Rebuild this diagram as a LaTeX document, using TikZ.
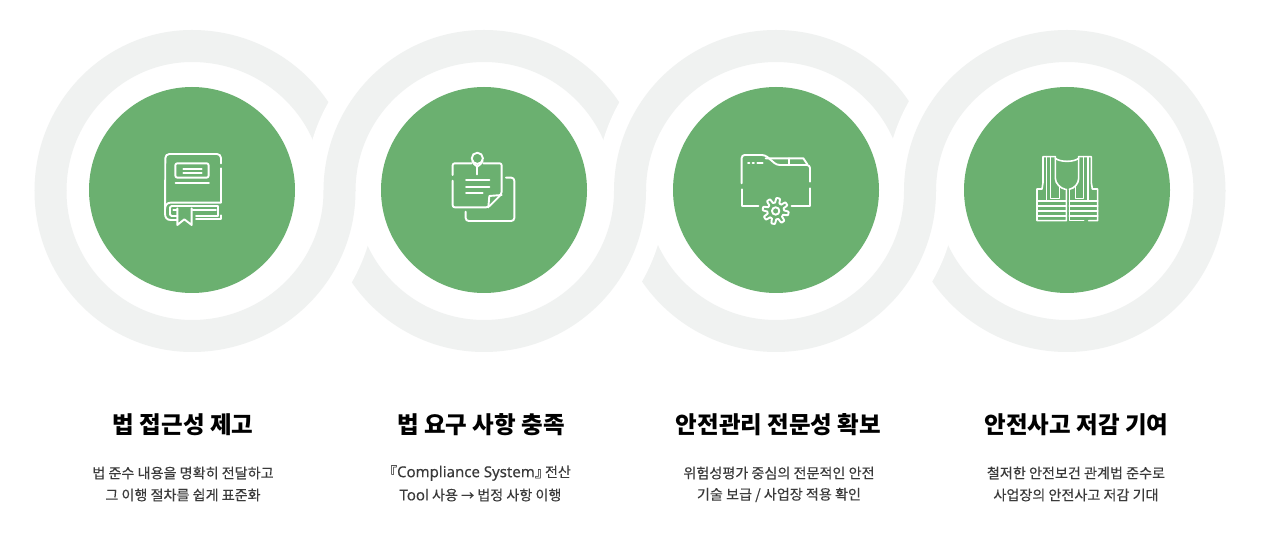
\documentclass[tikz,border=0pt]{standalone}
\usepackage{fontspec}
\setmainfont{Noto Sans CJK KR}
\newfontfamily\medfont{Noto Sans CJK KR}[FakeBold=0.25]
\newfontfamily\latinfont{Noto Sans}[FakeBold=0.25]
\definecolor{ringc}{HTML}{F0F2F1}
\definecolor{greenc}{HTML}{6BB070}
\definecolor{bodyc}{HTML}{3A3A3A}
\tikzset{
  ringarc/.style={draw=ringc,line width=32pt},
  gap/.style={fill=white,draw=none},
  disc/.style={circle,fill=greenc,draw=none,minimum size=206pt,inner sep=0pt},
  icon/.style={draw=white,line width=1.9pt,line cap=round,line join=round,fill=none},
  thinicon/.style={icon,line width=1.6pt},
  titletext/.style={font=\fontsize{23.5}{28}\selectfont\bfseries,text=black,anchor=center,inner sep=0pt},
  bodytext/.style={font=\fontsize{14.1}{22}\selectfont\medfont,text=bodyc,anchor=center,inner sep=0pt}
}
\newcommand{\upperring}[3]{\draw[ringarc] ({#1-#2},342) arc[start angle=180,end angle=90,x radius=#2pt,y radius=145pt] arc[start angle=90,end angle=0,x radius=#3pt,y radius=145pt];}
\newcommand{\lowerring}[3]{\draw[ringarc] ({#1-#2},342.6) -- ({#1-#2},342) arc[start angle=180,end angle=270,x radius=#2pt,y radius=145pt] arc[start angle=270,end angle=360,x radius=#3pt,y radius=145pt] -- ({#1+#3},342.6);}
\newcommand{\gapupper}[2]{\fill[gap] ({#1-#2},342) arc[start angle=180,end angle=0,radius=#2pt] -- cycle;}
\newcommand{\gaplower}[2]{\fill[gap] ({#1-#2},342) arc[start angle=180,end angle=360,radius=#2pt] -- cycle;}
\newcommand{\lat}[1]{{\latinfont\fontsize{15}{22}\selectfont #1}}
\begin{document}
\begin{tikzpicture}[x=1pt,y=1pt]
\useasboundingbox (0,0) rectangle (1280,533);
\fill[white] (0,0) rectangle (1280,533);
% upper halves, left to right
\upperring{192}{141.5}{147.5}
\gapupper{484}{179}
\upperring{484}{144.5}{146}
\gapupper{776}{180}
\upperring{776}{146}{144}
\gapupper{1067}{181.7}
\upperring{1067}{147}{142.5}
% lower halves, right to left
\lowerring{1067}{147}{142.5}
\gaplower{776}{180.5}
\lowerring{776}{146}{144}
\gaplower{484}{182}
\lowerring{484}{144.5}{146}
\gaplower{192}{184}
\lowerring{192}{141.5}{147.5}
% green discs
\node[disc] (d1) at (192,343) {};
\node[disc] (d2) at (484,343) {};
\node[disc] (d3) at (776,343) {};
\node[disc] (d4) at (1067,343) {};
% book icon
\begin{scope}[shift={(140,403)},x=0.3333pt,y=-0.3333pt]
\draw[icon] (243,100) -- (243,84) arc[start angle=0,end angle=90,radius=4pt] -- (88,72) arc[start angle=90,end angle=180,radius=4pt] -- (75,250) .. controls (75,262) and (80,270) .. (92,270) -- (112,270);
\draw[icon] (243,115) -- (243,218) -- (92,218) .. controls (82,218) and (75,225) .. (75,238);
\draw[icon] (95,228) -- (235,228) -- (235,258) -- (168,258);
\draw[icon] (95,228) -- (90,232) -- (90,254) -- (95,258) -- (112,258);
\draw[icon] (100,241) -- (112,241) (158,241) -- (228,241);
\draw[icon] (168,268) -- (243,268) -- (243,256);
\draw[icon] (112,235) -- (112,285) -- (133,268) -- (155,285) -- (155,235);
\draw[icon,rounded corners=2pt] (106,100) rectangle (206,143);
\draw[icon] (130,116) -- (185,116) (130,130) -- (185,130) (107,158) -- (207,158);
\end{scope}
% note icon
\begin{scope}[shift={(430,403)},x=0.3333pt,y=-0.3333pt]
\draw[icon,rounded corners=2pt] (125,100) -- (68,100) -- (68,135);
\draw[icon,rounded corners=2pt] (160,100) -- (215,100) -- (215,192) -- (175,232) -- (68,232) -- (68,152);
\draw[icon] (215,195) -- (178,198) -- (175,232);
\draw[icon] (108,150) -- (178,150) (108,170) -- (178,170) (108,190) -- (158,190);
\draw[icon] (142,85) circle[radius=5.6pt];
\draw[icon] (127,92) .. controls (128,100) and (135,105) .. (142,110) .. controls (149,105) and (156,100) .. (158,92);
\draw[icon] (142,110) -- (142,133);
\draw[icon,rounded corners=3pt] (228,143) -- (253,143) -- (253,273) -- (107,273) -- (107,245);
\end{scope}
% folder icon
\begin{scope}[shift={(720,403)},x=0.3333pt,y=-0.3333pt]
\draw[icon,rounded corners=3pt] (65,160) -- (65,75) -- (135,75) -- (170,105) -- (270,105) -- (270,155);
\draw[icon] (137,85) -- (250,85) -- (262,103);
\draw[icon] (207,85) -- (207,105);
\draw[icon] (84,98) -- (88,98) (98,98) -- (102,98) (112,98) -- (128,98);
\draw[icon] (65,178) -- (65,228) -- (115,228);
\draw[icon] (270,175) -- (270,228) -- (215,228);
\draw[icon] plot[domain=0:360,samples=145] ({167+(32+7*min(1,max(-1,2.2*sin(8*\x))))*cos(\x)},{243+(32+7*min(1,max(-1,2.2*sin(8*\x))))*sin(\x)}) -- cycle;
\draw[icon] (167,243) circle[radius=3.7pt];
\end{scope}
% vest icon
\begin{scope}[shift={(1012,403)},x=0.3333pt,y=-0.3333pt]
\draw[thinicon] (130,80) -- (93,80) -- (93,158) -- (90,177) -- (75,177) -- (75,272) -- (163,272) -- (163,178);
\draw[thinicon] (200,80) -- (238,80) -- (238,158) -- (241,177) -- (257,177) -- (257,272) -- (230,272);
\draw[thinicon] (172,178) -- (172,272) -- (215,272);
\draw[thinicon] (130,85) .. controls (145,97) and (185,97) .. (200,85);
\draw[thinicon] (130,80) -- (130,145) .. controls (130,160) and (145,175) .. (160,178);
\draw[thinicon] (200,80) -- (200,145) .. controls (200,160) and (188,175) .. (172,178);
\draw[thinicon] (103,80) -- (103,213) (115,80) -- (115,205) -- (142,205) -- (142,168);
\draw[thinicon] (228,80) -- (228,213) (215,80) -- (215,205) -- (190,205) -- (190,168);
\draw[thinicon] (75,213) -- (163,213) (75,228) -- (163,228) (75,243) -- (163,243) (75,258) -- (163,258);
\draw[thinicon] (172,213) -- (257,213) (172,228) -- (257,228) (172,243) -- (257,243) (172,258) -- (257,258);
\end{scope}
% texts
\node[titletext] (t1) at (183,108) {법 접근성 제고};
\node[titletext] (t2) at (481,108) {법 요구 사항 충족};
\node[titletext] (t3) at (778.5,108) {안전관리 전문성 확보};
\node[titletext] (t4) at (1076.5,108) {안전사고 저감 기여};
\node[bodytext] (a1) at (183,60) {법 준수 내용을 명확히 전달하고};
\node[bodytext] (b1) at (183,38) {그 이행 절차를 쉽게 표준화};
\node[bodytext] (a2) at (480.5,60) {\makebox[7pt][r]{『}\lat{Compliance System}\makebox[7pt][l]{』} 전산};
\node[bodytext] (b2) at (480.5,38) {\lat{Tool} 사용 {\fontsize{13}{22}\selectfont →} 법정 사항 이행};
\node[bodytext] (a3) at (779,60) {위험성평가 중심의 전문적인 안전};
\node[bodytext] (b3) at (779,38) {기술 보급 / 사업장 적용 확인};
\node[bodytext] (a4) at (1076,60) {철저한 안전보건 관계법 준수로};
\node[bodytext] (b4) at (1076,38) {사업장의 안전사고 저감 기대};
\end{tikzpicture}
\end{document}
